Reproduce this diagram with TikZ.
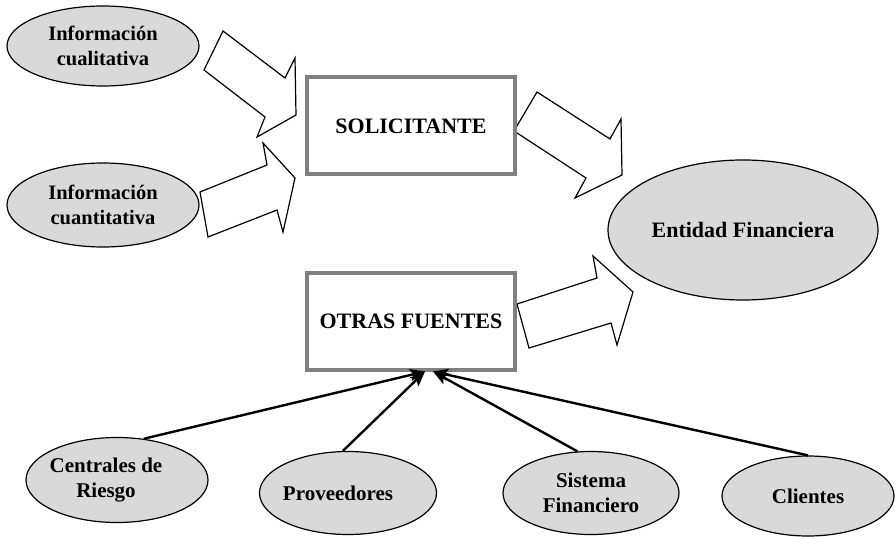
\documentclass[tikz,border=0pt]{standalone}
\usepackage{fontspec}
\setmainfont{Liberation Serif}
\usetikzlibrary{shapes.geometric,arrows.meta,calc}
\definecolor{ellgray}{RGB}{217,217,217}
\definecolor{boxgray}{RGB}{128,128,128}
\begin{document}
\begin{tikzpicture}[x=1pt,y=-1pt,
  ell/.style={ellipse, draw=black, line width=1.2pt, fill=ellgray, inner sep=0pt, align=center,
    font=\bfseries\fontsize{20.5}{25}\selectfont},
  bigtext/.style={font=\bfseries\fontsize{22}{26}\selectfont},
  smalltext/.style={font=\bfseries\fontsize{21}{25}\selectfont, align=center},
  boxn/.style={rectangle, draw=boxgray, line width=4pt, fill=white, minimum width=208pt,
    minimum height=97pt, inner sep=0pt, bigtext},
  blockarrow/.style={draw=black, line width=1.2pt, fill=white, line join=miter},
  conn/.style={draw=black, line width=2.4pt, -{Stealth[length=15pt,width=12pt,inset=3pt]}}]
\useasboundingbox (0,0) rectangle (896,537);

% block arrows
\draw[blockarrow] (223,31) -- (285,78) -- (295,58) -- (296,115) -- (257,137) -- (265,117) -- (204,70) -- cycle;
\draw[blockarrow] (200,192) -- (267,165) -- (263,143) -- (295,178) -- (283,232) -- (277,210) -- (208,237) -- cycle;
\draw[blockarrow] (537,92) -- (610,139) -- (621,119) -- (622,175) -- (575,198) -- (586,178) -- (514,131) -- cycle;
\draw[blockarrow] (517,304) -- (597,278) -- (593,256) -- (633,292) -- (617,345) -- (611,323) -- (529,348) -- cycle;

% nodes
\node[ell, minimum width=192pt, minimum height=80pt] (cuali) at (103,46) {Información\\cualitativa};
\node[ell, minimum width=192pt, minimum height=84pt] (cuanti) at (103,205) {Información\\cuantitativa};
\node[boxn] (sol) at (411,126) {SOLICITANTE};
\node[boxn] (otras) at (411,321) {OTRAS FUENTES};
\node[ell, bigtext, minimum width=270pt, minimum height=140pt] (ent) at (743,230) {Entidad Financiera};

\node[ell, minimum width=182pt, minimum height=85pt,
  label={[smalltext, xshift=-11pt]center:{Centrales de\\Riesgo}}] (cent) at (117,480) {};
\node[ell, minimum width=177pt, minimum height=83pt,
  label={[smalltext, xshift=-10pt]center:{Proveedores}}] (prov) at (348,493) {};
\node[ell, smalltext, minimum width=176pt, minimum height=83pt] (sist) at (591,493) {Sistema\\Financiero};
\node[ell, smalltext, minimum width=172pt, minimum height=80pt] (cli) at (808,496) {Clientes};

% connectors
\coordinate (tipL) at ($(otras.south)+(14,0)$);
\coordinate (tipR) at ($(otras.south)+(22,0)$);
\draw[conn] (cent.57) -- (tipL);
\draw[conn] (prov.97) -- (tipL);
\draw[conn] (sist.108) -- (tipR);
\draw[conn] (cli.90) -- (tipR);
\end{tikzpicture}
\end{document}
